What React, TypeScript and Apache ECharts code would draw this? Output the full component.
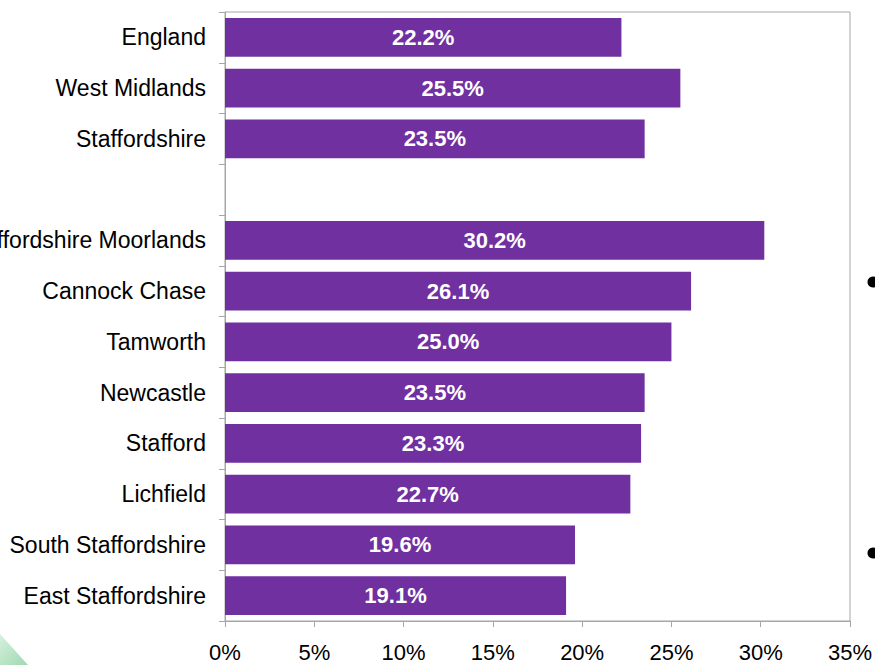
import React, { useEffect, useRef } from "react";
import * as echarts from "echarts";

const categories = [
  "England",
  "West Midlands",
  "Staffordshire",
  "",
  "Staffordshire Moorlands",
  "Cannock Chase",
  "Tamworth",
  "Newcastle",
  "Stafford",
  "Lichfield",
  "South Staffordshire",
  "East Staffordshire",
];
const values: (number | null)[] = [22.2, 25.5, 23.5, null, 30.2, 26.1, 25.0, 23.5, 23.3, 22.7, 19.6, 19.1];
const xMin = 0;
const xMax = 35;
const xStep = 5;

export default function App() {
  const ref = useRef<HTMLDivElement>(null);
  useEffect(() => {
    document.body.style.margin = "0";
    const chart = echarts.init(ref.current!, null, { renderer: "svg" });
    const axisColor = "#A6A6A6";
    const font = "'Liberation Sans', Arial, sans-serif";
    chart.setOption({
      animation: false,
      backgroundColor: "#ffffff",
      textStyle: { fontFamily: font },
      grid: {
        left: 225,
        right: 25,
        top: 12,
        bottom: 44,
        containLabel: false,
        outerBoundsMode: "none",
        show: true,
        borderColor: axisColor,
        borderWidth: 1,
      },
      xAxis: {
        type: "value",
        min: xMin,
        max: xMax,
        interval: xStep,
        axisLine: { show: true, lineStyle: { color: axisColor, width: 1 } },
        axisTick: { show: true, length: 6, lineStyle: { color: axisColor } },
        splitLine: { show: false },
        axisLabel: {
          formatter: "{value}%",
          color: "#000",
          fontSize: 22,
          fontFamily: font,
          margin: 20,
        },
      },
      yAxis: {
        type: "category",
        data: categories,
        inverse: true,
        axisLine: { show: true, lineStyle: { color: axisColor, width: 1 } },
        axisTick: { show: true, length: 6, lineStyle: { color: axisColor } },
        axisLabel: {
          color: "#000",
          fontSize: 23,
          fontFamily: font,
          margin: 19,
        },
        splitLine: { show: false },
      },
      series: [
        {
          type: "bar",
          data: values,
          barCategoryGap: "24%",
          itemStyle: { color: "#7030A0" },
          label: {
            show: true,
            position: "inside",
            color: "#fff",
            fontWeight: "bold",
            fontSize: 22,
            fontFamily: font,
            formatter: (p: any) => (p.value == null ? "" : Number(p.value).toFixed(1) + "%"),
          },
        },
      ],
      graphic: [
        {
          type: "polygon",
          shape: { points: [[0, 634], [28, 665], [0, 665]] },
          style: {
            fill: new echarts.graphic.LinearGradient(0, 0, 1, 1, [
              { offset: 0, color: "#d6f0de" },
              { offset: 1, color: "#9fd9b1" },
            ]),
          },
          silent: true,
        },
        { type: "circle", shape: { cx: 873, cy: 282, r: 5.5 }, style: { fill: "#000" }, silent: true },
        { type: "circle", shape: { cx: 873, cy: 553, r: 5.5 }, style: { fill: "#000" }, silent: true },
      ],
    });
    return () => chart.dispose();
  }, []);
  return (
    <div
      ref={ref}
      style={{ position: "absolute", left: 0, top: 0, width: 875, height: 665 }}
    />
  );
}
